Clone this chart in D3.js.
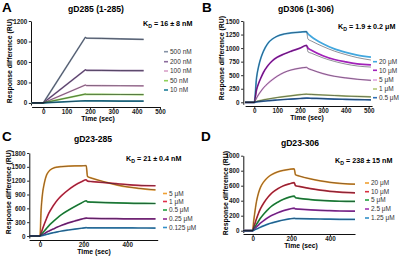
<!DOCTYPE html>
<html>
<head>
<meta charset="utf-8">
<script src="https://cdn.jsdelivr.net/npm/d3@7"></script>
<style>
  body { margin: 0; background: #fff; }
  svg { display: block; font-family: "Liberation Sans", Arial, sans-serif; }
</style>
</head>
<body>
<svg id="fig" width="401" height="258"></svg>
<script>
/* ---- data ---- */

// A: gD285 (1-285)
const timeA = [-50, 0, 180, 185, 250, 330, 430];
const concA = ["500 nM", "200 nM", "100 nM", "50 nM", "10 nM"];
const colorA = ["#8593a6", "#8b6c9c", "#d9a2c8", "#8fd15a", "#1f7f99"];
const respA = [
  [0, 0, 960, 950, 945, 938, 930],
  [0, 0, 485, 478, 476, 474, 472],
  [0, 0, 262, 255, 253, 252, 250],
  [0, 0, 130, 126, 125, 124, 123],
  [0, 0, 32, 30, 29, 28, 27]
];

// B: gD306 (1-306)
const timeB = [-40, 0, 10, 20, 30, 40, 60, 80, 100, 130, 160, 200, 228, 235, 250, 300, 350, 400, 450, 510];
const concB = ["20 \u03bcM", "10 \u03bcM", "5 \u03bcM", "1 \u03bcM", "0.5 \u03bcM"];
const colorB = ["#42a7de", "#a221b9", "#e2a6e0", "#b5c97a", "#2f6fb5"];
const respB = [
  [0, 0, 450, 680, 830, 940, 1090, 1170, 1220, 1260, 1280, 1295, 1305, 1265, 1210, 1080, 985, 920, 870, 835],
  [0, 0, 230, 360, 460, 550, 680, 770, 830, 890, 940, 1000, 1050, 1000, 960, 860, 790, 745, 710, 690],
  [0, 0, 80, 150, 210, 265, 350, 420, 480, 550, 595, 630, 645, 625, 600, 530, 480, 450, 425, 405],
  [0, 0, 15, 25, 35, 45, 60, 75, 88, 105, 120, 140, 150, 148, 145, 135, 125, 115, 108, 100],
  [0, 0, 8, 12, 16, 20, 28, 36, 42, 52, 60, 70, 78, 76, 74, 68, 60, 55, 50, 45]
];
// fitted curves (drawn dark), where they part from the data
const fitB = [
  [0, 0, 450, 680, 830, 940, 1090, 1170, 1220, 1260, 1280, 1295, 1305, 1165, 1130, 1030, 945, 880, 825, 780],
  [0, 0, 230, 360, 460, 550, 680, 770, 830, 890, 940, 1000, 1050, 930, 905, 820, 755, 705, 670, 650],
  [0, 0, 80, 150, 210, 265, 350, 420, 480, 550, 595, 630, 645, 625, 600, 530, 480, 450, 425, 405],
  [0, 0, 15, 25, 35, 45, 60, 75, 88, 105, 120, 140, 150, 148, 145, 135, 125, 115, 108, 100],
  [0, 0, 8, 12, 16, 20, 28, 36, 42, 52, 60, 70, 78, 76, 74, 68, 60, 55, 50, 45]
];

// C: gD23-285
const timeC = [-50, 0, 5, 10, 20, 30, 40, 60, 80, 100, 130, 160, 190, 212, 218, 240, 300, 350, 400, 450, 530];
const concC = ["5 \u03bcM", "1 \u03bcM", "0.5 \u03bcM", "0.25 \u03bcM", "0.125 \u03bcM"];
const colorC = ["#f0a032", "#e0304a", "#22a040", "#922a92", "#3290c8"];
const respC = [
  [0, 0, 550, 850, 1150, 1320, 1400, 1470, 1495, 1505, 1515, 1520, 1522, 1525, 1290, 1250, 1170, 1110, 1065, 1035, 1000],
  [0, 0, 60, 130, 260, 380, 490, 650, 780, 880, 1000, 1100, 1175, 1220, 1190, 1180, 1155, 1135, 1115, 1100, 1090],
  [0, 0, 25, 55, 110, 165, 220, 310, 395, 470, 560, 640, 715, 765, 740, 735, 725, 718, 712, 708, 705],
  [0, 0, 12, 25, 50, 80, 105, 150, 195, 235, 285, 325, 365, 390, 385, 382, 378, 375, 373, 371, 370],
  [0, 0, 5, 10, 22, 35, 48, 70, 90, 108, 130, 150, 168, 180, 178, 177, 176, 175, 175, 174, 173]
];

// D: gD23-306
const timeD = [-50, 0, 5, 10, 20, 30, 40, 60, 80, 100, 130, 160, 190, 215, 222, 240, 300, 350, 400, 450, 530];
const concD = ["20 \u03bcM", "10 \u03bcM", "5 \u03bcM", "2.5 \u03bcM", "1.25 \u03bcM"];
const colorD = ["#f0a032", "#d83040", "#22a040", "#a232b2", "#3290c8"];
const respD = [
  [0, 0, 120, 220, 390, 500, 575, 660, 715, 750, 785, 805, 818, 825, 745, 730, 690, 665, 645, 632, 620],
  [0, 0, 40, 80, 160, 230, 290, 380, 450, 505, 560, 600, 625, 640, 600, 590, 560, 540, 525, 515, 505],
  [0, 0, 20, 40, 85, 125, 165, 230, 285, 330, 380, 420, 448, 462, 440, 432, 415, 405, 398, 393, 390],
  [0, 0, 12, 25, 50, 75, 100, 140, 175, 205, 240, 268, 288, 300, 290, 287, 278, 272, 267, 263, 260],
  [0, 0, 5, 10, 22, 34, 46, 68, 88, 104, 125, 143, 157, 165, 162, 161, 158, 156, 154, 152, 150]
];

/* ---- panels ---- */
const svg = d3.select("#fig");

const panels = [
  { letter: "A", lx: 2, ly: 12, title: "gD285 (1-285)", tx: 96, ty: 12,
    kd: ["16 \u00b1 8 nM"], kx: 143, ky: 26,
    xd: [-50, 500], xr: [31.6, 160], yd: [-30, 1200], yr: [105, 21],
    xAxisY: 107, yAxisX: 31, xt: d3.range(0, 501, 100), yt: d3.range(0, 1201, 300),
    xlab: [98, 120.5], ylab: [9.5, 61],
    time: timeA, resp: respA, fit: respA, conc: concA, color: colorA, curve: d3.curveLinear,
    legX: 164, legY: [51.7, 61.7, 71, 80.7, 90] },
  { letter: "B", lx: 202, ly: 12, title: "gD306 (1-306)", tx: 306, ty: 12,
    kd: ["1.9 \u00b1 0.2 \u03bcM"], kx: 338, ky: 29,
    xd: [-40, 515], xr: [245.1, 372.1], yd: [-37, 1500], yr: [104.3, 21],
    xAxisY: 106, yAxisX: 243.3, xt: d3.range(0, 501, 100), yt: d3.range(0, 1501, 250),
    xlab: [307, 119.5], ylab: [221.5, 58],
    time: timeB, resp: respB, fit: fitB, conc: concB, color: colorB, curve: d3.curveMonotoneX,
    legX: 373, legY: [61.7, 70.3, 80, 89, 97.7] },
  { letter: "C", lx: 2, ly: 141, title: "gD23-285", tx: 93, ty: 142,
    kd: ["21 \u00b1 0.4 nM"], kx: 126, ky: 161,
    xd: [-50, 540], xr: [29.1, 157.7], yd: [-43, 1800], yr: [238, 153],
    xAxisY: 240, yAxisX: 29.3, xt: [0, 200, 400], yt: d3.range(0, 1801, 300),
    xlab: [94, 253.5], ylab: [8.5, 192],
    time: timeC, resp: respC, fit: respC, conc: concC, color: colorC, curve: d3.curveMonotoneX,
    legX: 163, legY: [193.5, 201.5, 210, 219, 227.5] },
  { letter: "D", lx: 201, ly: 141, title: "gD23-306", tx: 300, ty: 146,
    kd: ["238 \u00b1 15 nM"], kx: 335, ky: 163,
    xd: [-50, 530], xr: [243, 355], yd: [-24, 1000], yr: [232.5, 155.7],
    xAxisY: 234, yAxisX: 243.3, xt: [0, 200, 400], yt: d3.range(0, 1001, 200),
    xlab: [301, 247.8], ylab: [225, 193],
    time: timeD, resp: respD, fit: respD, conc: concD, color: colorD, curve: d3.curveMonotoneX,
    legX: 365, legY: [183, 191.7, 200, 209, 218] }
];

panels.forEach(drawPanel);

function drawPanel(p) {
  const g = svg.append("g");
  const x = d3.scaleLinear().domain(p.xd).range(p.xr);
  const y = d3.scaleLinear().domain(p.yd).range(p.yr);

  // letter + title
  g.append("text").attr("x", p.lx).attr("y", p.ly)
    .attr("font-size", 13.5).attr("font-weight", "bold").text(p.letter);
  g.append("text").attr("x", p.tx).attr("y", p.ty).attr("text-anchor", "middle")
    .attr("font-size", 8.6).attr("font-weight", "bold").text(p.title);

  // axes
  const yAxis = g.append("g").attr("transform", `translate(${p.yAxisX},0)`)
    .call(d3.axisLeft(y).tickValues(p.yt).tickFormat(d3.format("d"))
      .tickSize(2.2).tickSizeOuter(0).tickPadding(1.5));
  const xAxis = g.append("g").attr("transform", `translate(0,${p.xAxisY})`)
    .call(d3.axisBottom(x).tickValues(p.xt).tickFormat(d3.format("d"))
      .tickSize(2.2).tickSizeOuter(0));
  [xAxis, yAxis].forEach(a => {
    a.attr("font-family", null).attr("font-size", null);
    a.select(".domain").attr("stroke", "#111").attr("stroke-width", 1);
    a.selectAll(".tick line").attr("stroke", "#111").attr("stroke-width", 0.9);
    a.selectAll(".tick text").attr("font-size", 6.3).attr("font-weight", "bold").attr("fill", "#1a1a1a");
  });
  // x tick labels sit tight under the axis
  xAxis.selectAll(".tick text").attr("y", 7).attr("dy", null);

  g.append("text").attr("x", p.xlab[0]).attr("y", p.xlab[1]).attr("text-anchor", "middle")
    .attr("font-size", 6.8).attr("font-weight", "bold").text("Time (sec)");
  g.append("text").attr("transform", `translate(${p.ylab[0] + 2.5},${p.ylab[1]}) rotate(-90)`)
    .attr("text-anchor", "middle").attr("font-size", 6.9).attr("font-weight", "bold")
    .text("Response difference (RU)");

  // curves
  const line = d3.line().x((d, i) => x(p.time[i])).y(d => y(d)).curve(p.curve);
  p.resp.forEach((s, i) => {
    g.append("path").attr("d", line(s)).attr("fill", "none")
      .attr("stroke", p.color[i]).attr("stroke-width", 1.7).attr("stroke-linejoin", "round");
  });
  p.fit.forEach((s, i) => {
    g.append("path").attr("d", line(s)).attr("fill", "none")
      .attr("stroke", "#1c1c2a").attr("stroke-width", 0.7).attr("stroke-opacity", 0.7);
  });

  // K_D
  const kd = g.append("text").attr("x", p.kx).attr("y", p.ky)
    .attr("font-size", 7.2).attr("font-weight", "bold");
  kd.append("tspan").text("K");
  kd.append("tspan").attr("font-size", 5.2).attr("dy", 1.8).text("D");
  kd.append("tspan").attr("dy", -1.8).text(" = " + p.kd[0]);

  // legend
  p.conc.forEach((c, i) => {
    g.append("line").attr("x1", p.legX).attr("x2", p.legX + 4)
      .attr("y1", p.legY[i]).attr("y2", p.legY[i])
      .attr("stroke", p.color[i]).attr("stroke-width", 1.6);
    g.append("text").attr("x", p.legX + 6).attr("y", p.legY[i] + 2.3)
      .attr("font-size", 6.5).attr("fill", "#333").text(c);
  });
}
</script>
</body>
</html>
